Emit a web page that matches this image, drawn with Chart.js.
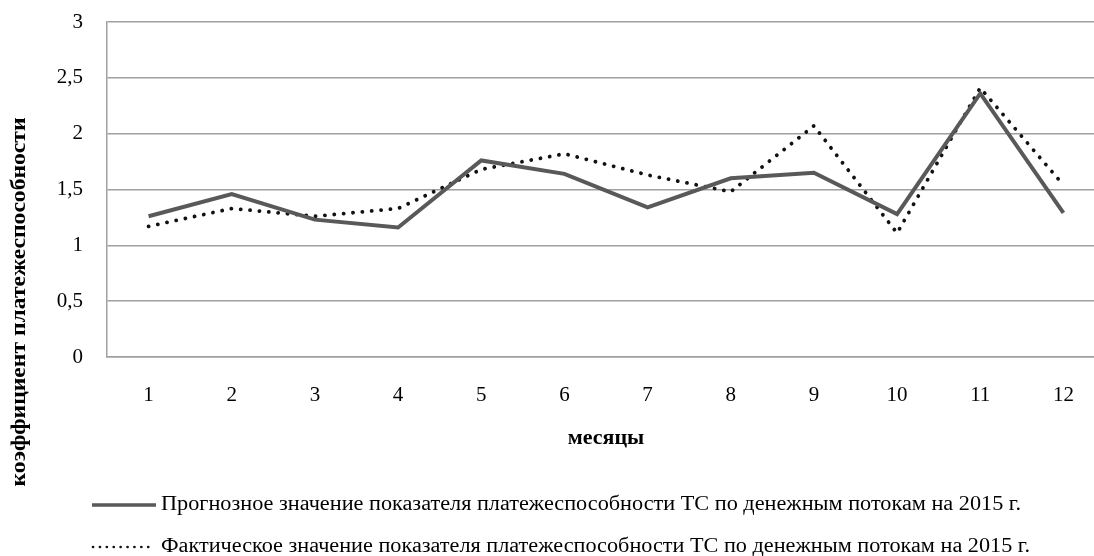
<!DOCTYPE html>
<html>
<head>
<meta charset="utf-8">
<script src="https://cdn.jsdelivr.net/npm/chart.js@4.4.1/dist/chart.umd.min.js"></script>
<style>
html,body{margin:0;padding:0;background:#fff;overflow:hidden;}
#wrap{position:relative;width:1106px;height:556px;}
</style>
</head>
<body>
<div id="wrap"><canvas id="c" width="1106" height="556"></canvas></div>
<script>
const months = ['1','2','3','4','5','6','7','8','9','10','11','12'];
const forecastValues = [1.26, 1.46, 1.23, 1.16, 1.76, 1.64, 1.34, 1.60, 1.65, 1.28, 2.36, 1.29];
const actualValues   = [1.17, 1.33, 1.26, 1.33, 1.68, 1.82, 1.63, 1.48, 2.07, 1.11, 2.41, 1.54];
const yTickLabels = ['0','0,5','1','1,5','2','2,5','3'];
const forecastLabel = 'Прогнозное значение показателя платежеспособности ТС по денежным потокам на 2015 г.';
const actualLabel = 'Фактическое значение показателя платежеспособности ТС по денежным потокам на 2015 г.';
const yTitle = 'коэффициент платежеспособности';
const xTitle = 'месяцы';

const SERIF = '"Liberation Serif", "DejaVu Serif", serif';

const extrasPlugin = {
  id: 'extras',
  afterDraw(chart) {
    const ctx = chart.ctx;
    ctx.save();
    // y-axis title
    ctx.translate(20, 302);
    ctx.rotate(-Math.PI / 2);
    ctx.font = 'bold 21px ' + SERIF;
    ctx.fillStyle = '#000';
    ctx.textAlign = 'center';
    ctx.textBaseline = 'middle';
    const tw = ctx.measureText(yTitle).width;
    ctx.scale(369 / tw, 1);
    ctx.fillText(yTitle, 0, 0);
    ctx.restore();

    // legend
    const items = [
      {label: forecastLabel, y: 505, dash: [], width: 3.5, color: '#595959', cap: 'butt', x1: 92, x2: 156},
      {label: actualLabel, y: 547, dash: [0.1, 6.8], width: 2.6, color: '#111', cap: 'round', x1: 93, x2: 152}
    ];
    const targetW = [860, 869];
    items.forEach((it, i) => {
      ctx.save();
      ctx.beginPath();
      ctx.setLineDash(it.dash);
      ctx.lineCap = it.cap;
      ctx.lineWidth = it.width;
      ctx.strokeStyle = it.color;
      ctx.moveTo(it.x1, it.y);
      ctx.lineTo(it.x2, it.y);
      ctx.stroke();
      ctx.restore();
      ctx.save();
      ctx.font = '20px ' + SERIF;
      ctx.fillStyle = '#000';
      ctx.textBaseline = 'middle';
      ctx.textAlign = 'left';
      const w = ctx.measureText(it.label).width;
      ctx.translate(161, it.y);
      ctx.scale(targetW[i] / w, 1);
      ctx.fillText(it.label, 0, 0);
      ctx.restore();
    });
  }
};

new Chart(document.getElementById('c'), {
  type: 'line',
  data: {
    labels: months,
    datasets: [
      {
        label: forecastLabel,
        data: forecastValues,
        borderColor: '#595959',
        borderWidth: 4,
        pointRadius: 0,
        tension: 0,
        fill: false
      },
      {
        label: actualLabel,
        data: actualValues,
        borderColor: '#111111',
        borderWidth: 3.8,
        borderDash: [0.1, 9.3],
        borderCapStyle: 'round',
        pointRadius: 0,
        tension: 0,
        fill: false
      }
    ]
  },
  options: {
    responsive: false,
    animation: false,
    devicePixelRatio: 1,
    layout: {padding: {top: 22, right: 1, bottom: 99, left: 0}},
    plugins: {legend: {display: false}, tooltip: {enabled: false}},
    scales: {
      x: {
        offset: true,
        grid: {display: false, drawTicks: false},
        border: {display: true, color: '#a0a0a0', width: 1.5},
        ticks: {font: {family: SERIF, size: 21}, color: '#000', padding: 26, maxRotation: 0},
        title: {display: true, text: xTitle, font: {family: SERIF, size: 22, weight: 'bold'}, color: '#000', padding: {top: 0, bottom: 5}},
        afterFit(scale) { scale.height = 100; scale.paddingLeft = 0; scale.paddingRight = 0; }
      },
      y: {
        min: 0, max: 3,
        ticks: {
          stepSize: 0.5,
          font: {family: SERIF, size: 21},
          color: '#000',
          padding: 24,
          callback: (v, i) => yTickLabels[i]
        },
        grid: {color: '#a0a0a0', lineWidth: 1.5, drawTicks: false},
        border: {display: true, color: '#a0a0a0', width: 1.5},
        afterFit(scale) { scale.width = 107; scale.paddingTop = 0; scale.paddingBottom = 0; }
      }
    }
  },
  plugins: [extrasPlugin]
});
</script>
</body>
</html>
